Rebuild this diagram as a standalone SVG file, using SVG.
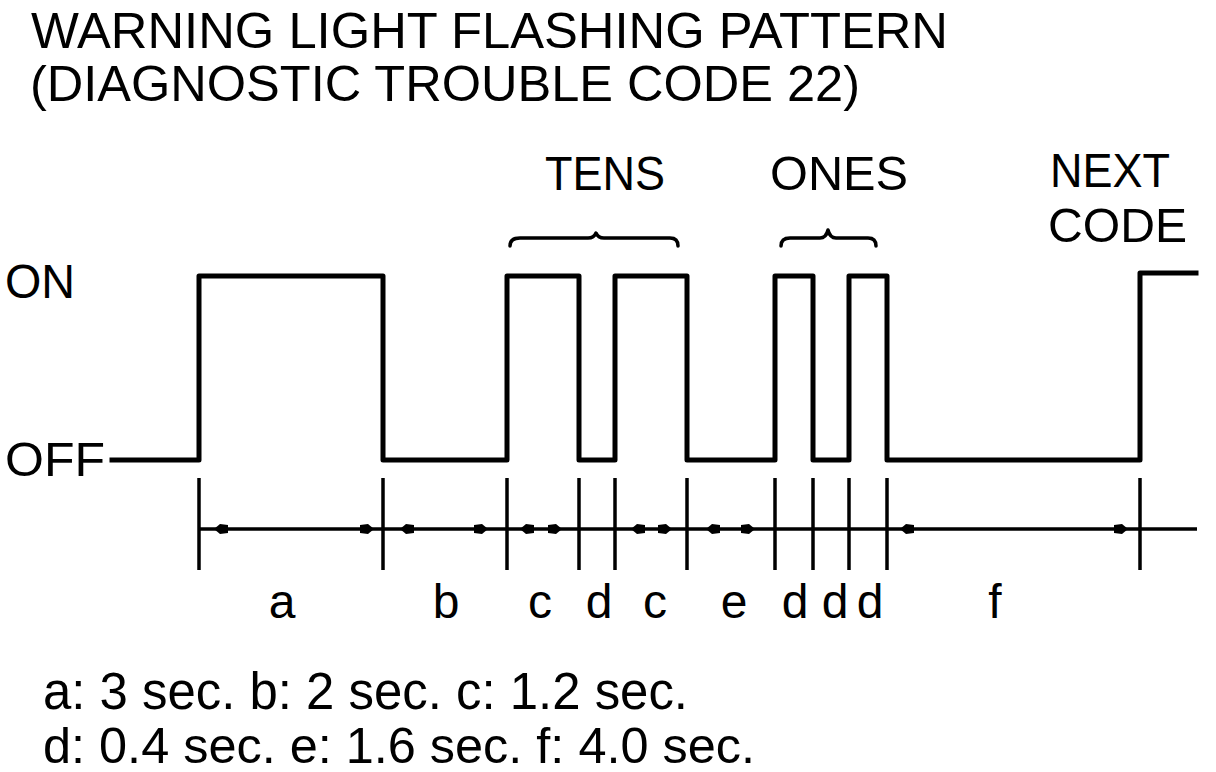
<svg xmlns="http://www.w3.org/2000/svg" width="1216" height="772" viewBox="0 0 1216 772">
<defs>
<style>
.t{font-family:"Liberation Sans",Arial,sans-serif;fill:#000}
.big{font-size:48px}
.lbl{font-size:48px}
.wave{fill:none;stroke:#000;stroke-width:5;stroke-linejoin:round;stroke-linecap:square}
.tick{stroke:#000;stroke-width:3.5}
.dim{stroke:#000;stroke-width:3.5}
.brace{fill:none;stroke:#000;stroke-width:3.5;stroke-linecap:round;stroke-linejoin:round}
</style>
<path id="al" d="M0,0 L6,-5 L14,-4 L14,4 L6,5 Z" fill="#000"/>
<path id="ar" d="M0,0 L-6,-5 L-14,-4 L-14,4 L-6,5 Z" fill="#000"/>
</defs>
<rect width="1216" height="772" fill="#fff"/>
<g id="title">
<text class="t" x="31" y="48" font-size="50" textLength="917" lengthAdjust="spacingAndGlyphs">WARNING LIGHT FLASHING PATTERN</text>
<text class="t" x="30" y="101" font-size="50" textLength="830" lengthAdjust="spacingAndGlyphs">(DIAGNOSTIC TROUBLE CODE 22)</text>
</g>
<g id="axis-labels">
<text class="t big" x="5" y="298" textLength="70" lengthAdjust="spacingAndGlyphs">ON</text>
<text class="t big" x="5" y="476" textLength="100" lengthAdjust="spacingAndGlyphs">OFF</text>
</g>
<g id="group-labels">
<text class="t big" x="545" y="190" textLength="120" lengthAdjust="spacingAndGlyphs">TENS</text>
<text class="t big" x="770" y="190" textLength="138" lengthAdjust="spacingAndGlyphs">ONES</text>
<text class="t big" x="1050" y="187" textLength="120" lengthAdjust="spacingAndGlyphs">NEXT</text>
<text class="t big" x="1048" y="242" textLength="139" lengthAdjust="spacingAndGlyphs">CODE</text>
</g>
<g id="braces">
<path class="brace" d="M510,246 Q510,238 520,238 H588 Q594,238 596,233 Q598,238 604,238 H670 Q678,238 678,246"/>
<path class="brace" d="M781,246 Q781,238 790,238 H820 Q826,238 828,230 Q830,238 836,238 H868 Q876,238 876,246"/>
</g>
<g id="waveform">
<path class="wave" d="M112,460 H199 V276 H383 V460 H507 V276 H579 V460 H615 V276 H687 V460 H775 V276 H813 V460 H849 V276 H887 V460 H1140 V273 H1196"/>
</g>
<g id="connectors">
<line class="dim" x1="199" y1="529" x2="1197" y2="529"/>
<g class="ticks">
<line class="tick" x1="199" y1="478" x2="199" y2="570"/>
<line class="tick" x1="383" y1="478" x2="383" y2="570"/>
<line class="tick" x1="507" y1="478" x2="507" y2="570"/>
<line class="tick" x1="579" y1="478" x2="579" y2="570"/>
<line class="tick" x1="615" y1="478" x2="615" y2="570"/>
<line class="tick" x1="687" y1="478" x2="687" y2="570"/>
<line class="tick" x1="775" y1="478" x2="775" y2="570"/>
<line class="tick" x1="813" y1="478" x2="813" y2="570"/>
<line class="tick" x1="849" y1="478" x2="849" y2="570"/>
<line class="tick" x1="887" y1="478" x2="887" y2="570"/>
<line class="tick" x1="1140" y1="478" x2="1140" y2="570"/>
</g>
<g class="arrows">
<use href="#al" x="214" y="529"/>
<use href="#ar" x="374" y="529"/>
<use href="#al" x="400" y="529"/>
<use href="#ar" x="488" y="529"/>
<use href="#al" x="520" y="529"/>
<use href="#ar" x="562" y="529"/>
<use href="#al" x="631" y="529"/>
<use href="#ar" x="672" y="529"/>
<use href="#al" x="706" y="529"/>
<use href="#ar" x="755" y="529"/>
<use href="#al" x="900" y="529"/>
<use href="#ar" x="1128" y="529"/>
</g>
</g>
<g id="segment-labels" text-anchor="middle">
<text class="t lbl" x="282" y="618">a</text>
<text class="t lbl" x="446" y="618">b</text>
<text class="t lbl" x="540" y="618">c</text>
<text class="t lbl" x="599" y="618">d</text>
<text class="t lbl" x="655" y="618">c</text>
<text class="t lbl" x="734" y="618">e</text>
<text class="t lbl" x="795" y="618">d</text>
<text class="t lbl" x="835" y="618">d</text>
<text class="t lbl" x="870" y="618">d</text>
<text class="t lbl" x="995" y="618">f</text>
</g>
<g id="legend">
<text class="t" font-size="51" x="43" y="709" textLength="645" lengthAdjust="spacingAndGlyphs">a: 3 sec. b: 2 sec. c: 1.2 sec.</text>
<text class="t" font-size="50" x="43" y="763" textLength="712" lengthAdjust="spacingAndGlyphs">d: 0.4 sec. e: 1.6 sec. f: 4.0 sec.</text>
</g>
</svg>
